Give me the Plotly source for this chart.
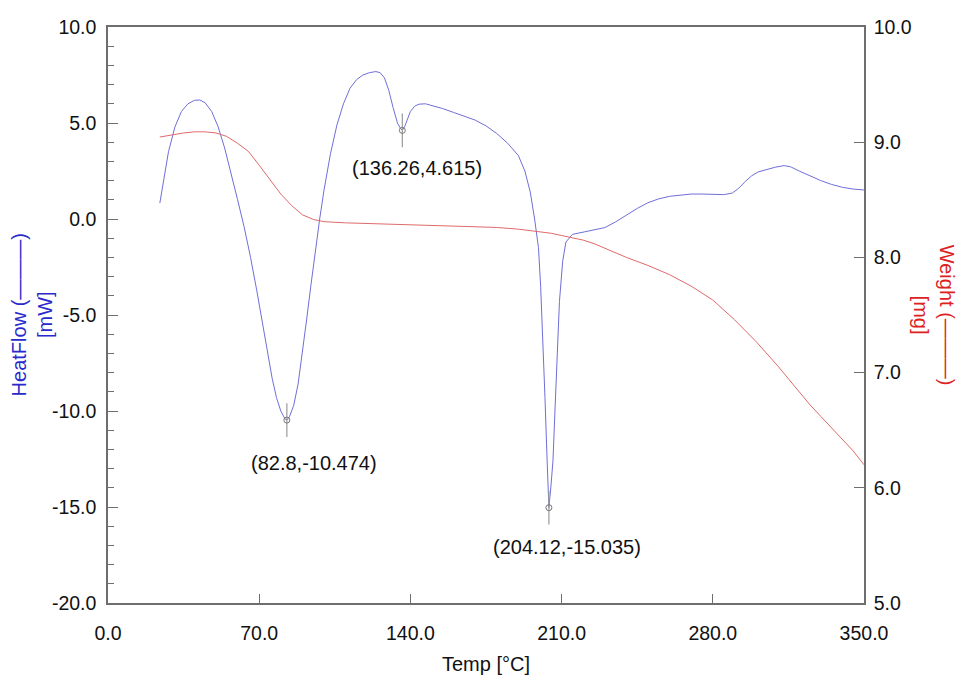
import plotly.graph_objects as go

# ---- data ----
temp_heat = [24, 26, 28, 31, 34, 37, 40, 42.5, 45, 48, 51, 54, 57, 60, 63, 66, 69, 72, 74, 76, 78, 80, 82, 82.8,
             84, 86, 88, 90, 92, 94, 96, 98, 100, 103, 106, 109, 112, 115, 118, 121, 124, 126, 128, 130, 132,
             134, 135.5, 136.26, 137.3, 138.5, 140, 142, 144, 147, 150, 155, 160, 165, 170, 175, 180, 185, 190,
             193, 195.5, 197.5, 199.3, 200.3, 201.3, 202.3, 203.3, 204.12, 205, 206, 207, 208, 209, 210.5, 212,
             215, 220, 225, 230, 235, 240, 245, 250, 255, 260, 265, 270, 275, 280, 285, 289, 292, 295, 298, 301,
             305, 309, 313, 316, 320, 325, 330, 335, 340, 345, 350]
heatflow = [0.83, 2.2, 3.5, 4.8, 5.6, 6.0, 6.18, 6.2, 6.05, 5.6, 4.8, 3.7, 2.4, 1.0, -0.4, -2.0, -3.8, -5.7, -7.0,
            -8.3, -9.3, -10.0, -10.42, -10.474, -10.3, -9.7, -8.6, -7.0, -5.2, -3.4, -1.6, 0.0, 1.5, 3.4, 4.9,
            6.0, 6.8, 7.25, 7.5, 7.62, 7.68, 7.62, 7.35, 6.7, 5.8, 5.0, 4.7, 4.615, 4.8, 5.2, 5.6, 5.88, 5.98,
            6.0, 5.92, 5.75, 5.55, 5.35, 5.15, 4.85, 4.45, 3.95, 3.3, 2.5, 1.4, 0.0, -1.5, -3.5, -6.0, -9.3,
            -12.6, -15.035, -14.0, -12.6, -9.8, -6.8, -4.3, -2.2, -1.2, -0.8, -0.68, -0.6, -0.45, -0.15, 0.2,
            0.55, 0.85, 1.05, 1.18, 1.25, 1.3, 1.3, 1.27, 1.27, 1.35, 1.6, 1.95, 2.25, 2.45, 2.58, 2.7, 2.78,
            2.72, 2.5, 2.25, 2.0, 1.8, 1.65, 1.56, 1.51]

temp_weight = [24, 30, 35, 40, 45, 50, 55, 60, 65, 70, 75, 80, 85, 90, 95, 100, 110, 120, 130, 140, 150, 160,
               170, 180, 190, 200, 205, 210, 215, 220, 225, 230, 235, 240, 250, 260, 270, 280, 290, 300, 310,
               320, 325, 330, 335, 340, 345, 350]
weight = [9.045, 9.065, 9.08, 9.09, 9.09, 9.08, 9.05, 8.99, 8.92, 8.8, 8.67, 8.55, 8.45, 8.37, 8.33, 8.31,
          8.30, 8.295, 8.29, 8.285, 8.28, 8.275, 8.27, 8.26, 8.245, 8.225, 8.21, 8.19, 8.17, 8.15, 8.12, 8.08,
          8.04, 8.0, 7.93, 7.85, 7.75, 7.63, 7.46, 7.27, 7.06, 6.83, 6.72, 6.62, 6.52, 6.42, 6.32, 6.2]

peak_temp = [82.8, 136.26, 204.12]
peak_heat = [-10.474, 4.615, -15.035]
peak_labels = ["(82.8,-10.474)", "(136.26,4.615)", "(204.12,-15.035)"]

left_ticks = [-20, -15, -10, -5, 0, 5, 10]
right_ticks = [5, 6, 7, 8, 9, 10]
x_ticks = [0, 70, 140, 210, 280, 350]

FONT = "Liberation Sans, Arial, sans-serif"
AXIS = "#6e6e6e"

fig = go.Figure()
fig.add_trace(go.Scatter(x=temp_weight, y=weight, mode="lines", yaxis="y2",
                         line=dict(color="#e06a6a", width=1), hoverinfo="skip"))
fig.add_trace(go.Scatter(x=temp_heat, y=heatflow, mode="lines",
                         line=dict(color="#6f6fd8", width=1), hoverinfo="skip"))
fig.add_trace(go.Scatter(x=peak_temp, y=peak_heat, mode="markers",
                         marker=dict(symbol="line-ns", size=24, line=dict(color="#9a9a9a", width=1.2)),
                         hoverinfo="skip"))
fig.add_trace(go.Scatter(x=peak_temp, y=peak_heat, mode="markers",
                         marker=dict(symbol="circle-open", size=6, color="#777777", line=dict(width=1)),
                         hoverinfo="skip"))

shifts = [(27, -43), (15, -38), (18, -39)]
for tx, hy, lab, (dx, dy) in zip(peak_temp, peak_heat, peak_labels, shifts):
    fig.add_annotation(x=tx, y=hy, text=lab, showarrow=False, xshift=dx, yshift=dy,
                       font=dict(family=FONT, size=20, color="#111111"))

fig.add_annotation(xref="paper", yref="paper", x=-0.1, y=0.5, xanchor="center", yanchor="middle",
                   text="HeatFlow (———)<br>[mW]", textangle=-90, showarrow=False,
                   font=dict(family=FONT, size=20, color="#2a2acc"))
fig.add_annotation(xref="paper", yref="paper", x=1.093, y=0.5, xanchor="center", yanchor="middle",
                   text="Weight (———)<br>[mg]", textangle=90, showarrow=False,
                   font=dict(family=FONT, size=20, color="#dd2222"))

fig.update_layout(
    width=961, height=686,
    margin=dict(l=108, r=97, t=27, b=83),
    paper_bgcolor="white", plot_bgcolor="white",
    showlegend=False,
    font=dict(family=FONT, size=19.5, color="#111111"),
    xaxis=dict(range=[0, 350], tickvals=x_ticks, ticktext=[f"{v:.1f}" for v in x_ticks],
               ticks="inside", ticklen=9, tickcolor=AXIS, tickwidth=1.2,
               showline=True, linecolor=AXIS, linewidth=1.5, mirror=True,
               showgrid=False, zeroline=False, ticklabelstandoff=12,
               title=dict(text="Temp [°C]", standoff=14, font=dict(size=20))),
    yaxis=dict(range=[-20, 10], tickvals=left_ticks, ticktext=[f"{v:.1f}" for v in left_ticks],
               ticks="inside", ticklen=10, tickcolor=AXIS, tickwidth=1.2,
               minor=dict(dtick=1, ticks="inside", ticklen=6, tickcolor=AXIS, tickwidth=1),
               showline=True, linecolor=AXIS, linewidth=1.5, mirror=True,
               showgrid=False, zeroline=False, ticklabelstandoff=6),
    yaxis2=dict(range=[5, 10], overlaying="y", side="right", tickvals=right_ticks,
                ticktext=[f"{v:.1f}" for v in right_ticks],
                ticks="inside", ticklen=10, tickcolor=AXIS, tickwidth=1.2,
                showline=True, linecolor=AXIS, linewidth=1.5,
                showgrid=False, zeroline=False, ticklabelstandoff=4),
)

fig.write_html("out.html")
